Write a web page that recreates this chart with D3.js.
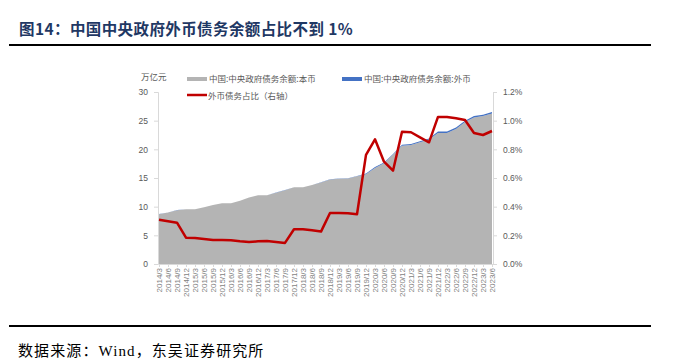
<!DOCTYPE html>
<html>
<head>
<meta charset="utf-8">
<script src="https://cdn.jsdelivr.net/npm/d3@7"></script>
<style>
  body { margin: 0; background: #fff; }
  svg { display: block; }
</style>
</head>
<body>
<div class="chart"></div>
<script>
// quarterly labels 2014/3 .. 2023/6
var quarters = ['2014/3','2014/6','2014/9','2014/12','2015/3','2015/6','2015/9','2015/12',
  '2016/3','2016/6','2016/9','2016/12','2017/3','2017/6','2017/9','2017/12',
  '2018/3','2018/6','2018/9','2018/12','2019/3','2019/6','2019/9','2019/12',
  '2020/3','2020/6','2020/9','2020/12','2021/3','2021/6','2021/9','2021/12',
  '2022/3','2022/6','2022/9','2022/12','2023/3','2023/6'];

// 本币 (万亿元)
var localDebt = [8.67, 8.97, 9.37, 9.53, 9.53, 9.88, 10.28, 10.58, 10.58, 11.03, 11.58, 11.98,
  11.98, 12.43, 12.88, 13.37, 13.37, 13.77, 14.22, 14.75, 14.85, 14.90, 15.30, 15.67,
  16.75, 17.57, 19.08, 20.61, 20.76, 21.22, 21.71, 22.86, 22.86, 23.56, 24.75, 25.56, 25.82, 26.25];

// 外币 (万亿元)
var foreignDebt = [0.03, 0.03, 0.03, 0.02, 0.02, 0.02, 0.02, 0.02, 0.02, 0.02, 0.02, 0.02,
  0.02, 0.02, 0.02, 0.03, 0.03, 0.03, 0.03, 0.05, 0.05, 0.05, 0.05, 0.13,
  0.15, 0.13, 0.12, 0.19, 0.19, 0.19, 0.19, 0.24, 0.24, 0.24, 0.25, 0.24, 0.23, 0.25];

// 外币债务占比 (%)
var foreignShare = [0.309, 0.298, 0.288, 0.184, 0.181, 0.174, 0.167, 0.167, 0.165, 0.158, 0.153, 0.158,
  0.160, 0.153, 0.147, 0.242, 0.242, 0.235, 0.226, 0.356, 0.356, 0.354, 0.347, 0.761,
  0.870, 0.714, 0.651, 0.923, 0.919, 0.884, 0.849, 1.026, 1.026, 1.017, 1.005, 0.914, 0.900, 0.928];

var leftTicks = [0, 5, 10, 15, 20, 25, 30];
var rightTicks = [0, 0.2, 0.4, 0.6, 0.8, 1.0, 1.2];

var W = 677, H = 361;
var plot = { left: 159, right: 492, top: 92, bottom: 264 };

var svg = d3.select('.chart').append('svg').attr('width', W).attr('height', H);

var cjk = '"Noto Sans CJK SC", "Liberation Sans", sans-serif';
var serif = '"Liberation Serif", "Noto Sans CJK SC", serif';

// title
svg.append('text').attr('x', 19).attr('y', 35)
  .attr('font-family', cjk).attr('font-weight', 'bold').attr('font-size', 15.5)
  .attr('letter-spacing', 0.4)
  .attr('fill', '#1f3864').text('图14：中国中央政府外币债务余额占比不到 1%');
svg.append('line').attr('x1', 9).attr('x2', 651).attr('y1', 45).attr('y2', 45)
  .attr('stroke', '#000').attr('stroke-width', 2);

// bottom rule and source
svg.append('line').attr('x1', 9).attr('x2', 651).attr('y1', 326).attr('y2', 326)
  .attr('stroke', '#000').attr('stroke-width', 2);
svg.append('text').attr('x', 18).attr('y', 356)
  .attr('font-family', serif).attr('font-size', 15).attr('letter-spacing', 1.1)
  .attr('fill', '#000').text('数据来源：Wind，东吴证券研究所');

var x = d3.scalePoint().domain(quarters).range([plot.left, plot.right]);
var yL = d3.scaleLinear().domain([0, 30]).range([plot.bottom, plot.top]);
var yR = d3.scaleLinear().domain([0, 1.2]).range([plot.bottom, plot.top]);

var rows = quarters.map(function (q, i) {
  return { q: q, local: localDebt[i], foreign: foreignDebt[i], share: foreignShare[i] };
});

// stacked area
svg.append('path').datum(rows)
  .attr('fill', '#b4b4b4')
  .attr('d', d3.area().x(function (d) { return x(d.q); })
    .y0(yL(0)).y1(function (d) { return yL(d.local); }));
svg.append('path').datum(rows)
  .attr('fill', '#4472c4')
  .attr('d', d3.area().x(function (d) { return x(d.q); })
    .y0(function (d) { return yL(d.local); })
    .y1(function (d) { return yL(d.local + d.foreign); }));

// axes
var axisColor = '#d9d9d9', labelColor = '#595959';
var gL = svg.append('g').attr('transform', 'translate(' + (plot.left - 1) + ',0)')
  .call(d3.axisLeft(yL).tickValues(leftTicks).tickSize(4).tickPadding(6));
var gR = svg.append('g').attr('transform', 'translate(' + (plot.right + 1) + ',0)')
  .call(d3.axisRight(yR).tickValues(rightTicks).tickSize(4).tickPadding(6)
    .tickFormat(function (d) { return d.toFixed(1) + '%'; }));
var gX = svg.append('g').attr('transform', 'translate(0,' + plot.bottom + ')')
  .call(d3.axisBottom(x).tickSize(3).tickSizeOuter(0));

[gL, gR, gX].forEach(function (g) {
  g.select('.domain').attr('stroke', axisColor);
  g.selectAll('.tick line').attr('stroke', axisColor);
  g.selectAll('text').attr('fill', labelColor).attr('font-family', '"Liberation Sans", sans-serif')
    .attr('font-size', 8.5);
});
gX.selectAll('text')
  .attr('font-size', 8)
  .attr('fill', '#7f7f7f')
  .attr('transform', 'rotate(-90)')
  .attr('text-anchor', 'end')
  .attr('y', 0).attr('x', 0)
  .attr('dx', -4).attr('dy', '0.32em');

// share line
svg.append('path').datum(rows)
  .attr('fill', 'none').attr('stroke', '#c00000').attr('stroke-width', 2.5)
  .attr('stroke-linejoin', 'round')
  .attr('d', d3.line().x(function (d) { return x(d.q); }).y(function (d) { return yR(d.share); }));

// unit label
svg.append('text').attr('x', 141).attr('y', 80)
  .attr('font-family', cjk).attr('font-size', 8.5).attr('fill', labelColor).text('万亿元');

// legend
var legend = svg.append('g').attr('font-family', cjk).attr('font-size', 8.5).attr('fill', labelColor);
legend.append('rect').attr('x', 187).attr('y', 77).attr('width', 20).attr('height', 4).attr('fill', '#b4b4b4');
legend.append('text').attr('x', 209).attr('y', 82).text('中国:中央政府债务余额:本币');
legend.append('rect').attr('x', 342).attr('y', 77).attr('width', 20).attr('height', 4).attr('fill', '#4472c4');
legend.append('text').attr('x', 364).attr('y', 82).text('中国:中央政府债务余额:外币');
legend.append('line').attr('x1', 187).attr('x2', 207).attr('y1', 95).attr('y2', 95)
  .attr('stroke', '#c00000').attr('stroke-width', 2.5);
legend.append('text').attr('x', 208).attr('y', 99).text('外币债务占比（右轴）');
</script>
</body>
</html>
